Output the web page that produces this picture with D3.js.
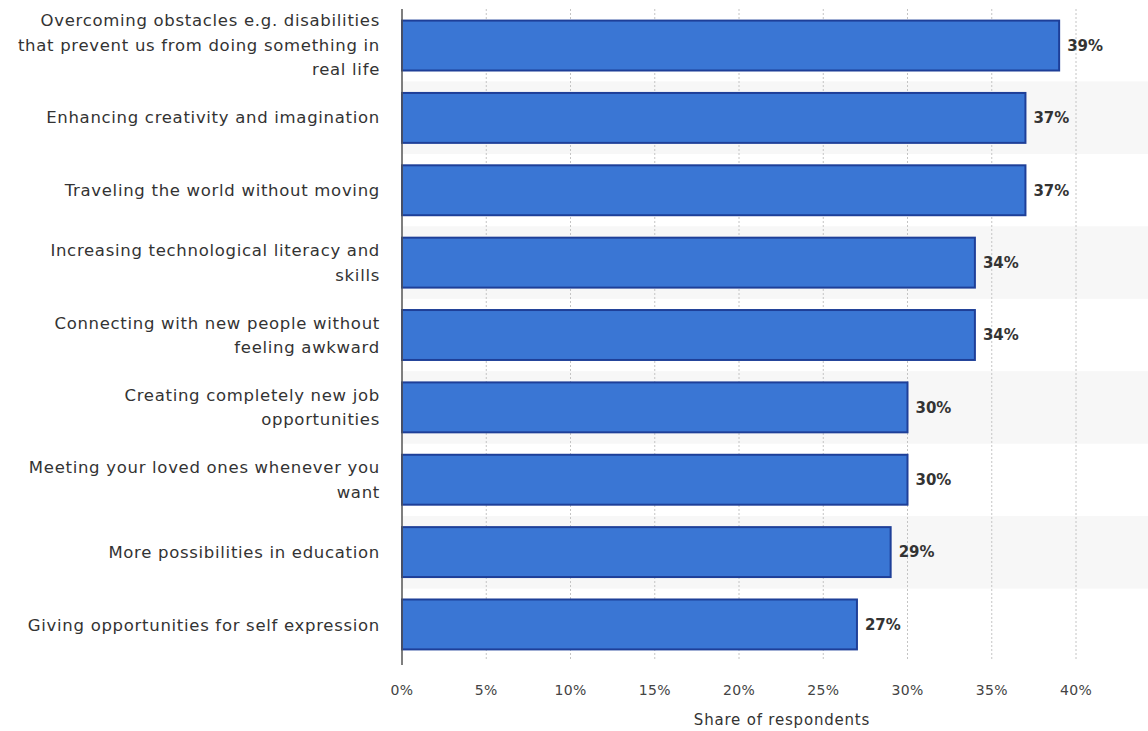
<!DOCTYPE html>
<html><head><meta charset="utf-8">
<script src="https://cdn.jsdelivr.net/npm/d3@7"></script>
<style>body{margin:0;background:#fff}svg{display:block}</style>
</head><body>
<svg id="c" width="1148" height="731"></svg>
<script>
const categories = [
  "Overcoming obstacles e.g. disabilities\nthat prevent us from doing something in\nreal life",
  "Enhancing creativity and imagination",
  "Traveling the world without moving",
  "Increasing technological literacy and\nskills",
  "Connecting with new people without\nfeeling awkward",
  "Creating completely new job\nopportunities",
  "Meeting your loved ones whenever you\nwant",
  "More possibilities in education",
  "Giving opportunities for self expression"
];
const values = [39, 37, 37, 34, 34, 30, 30, 29, 27];
const xTicks = [0, 5, 10, 15, 20, 25, 30, 35, 40];
const xTitle = "Share of respondents";

(function(){
const svg = d3.select("#c");
const pL = 402, pR = 1076, pT = 9, pB = 661;
const x = d3.scaleLinear().domain([0, 40]).range([pL, pR]);
const y = d3.scaleBand().domain(categories).range([pT, pB]).paddingInner(0.31).paddingOuter(0.16);
const yRow = d3.scaleBand().domain(categories).range([pT, pB]);

// bands
svg.append("g").selectAll("rect").data(categories.filter((d,i)=>i%2===1)).join("rect")
  .attr("x", pL).attr("width", 1148-pL)
  .attr("y", d=>yRow(d)).attr("height", yRow.bandwidth())
  .attr("fill", "#f7f7f7");

// grid
svg.append("g").selectAll("line").data(xTicks.slice(1)).join("line")
  .attr("x1", d=>x(d)).attr("x2", d=>x(d)).attr("y1", pT).attr("y2", pB)
  .attr("stroke", "#c4c4c4").attr("stroke-width", 1).attr("stroke-dasharray", "2,2");

// bars
svg.append("g").selectAll("rect").data(values).join("rect")
  .attr("x", x(0)).attr("y", (d,i)=>y(categories[i]))
  .attr("width", d=>x(d)-x(0)).attr("height", y.bandwidth())
  .attr("fill", "#3a76d4").attr("stroke", "#1e3f98").attr("stroke-width", 2);

// axis line
svg.append("line").attr("x1", pL).attr("x2", pL).attr("y1", pT).attr("y2", pB+4)
  .attr("stroke", "#555").attr("stroke-width", 1.5);

// value labels
svg.append("g").selectAll("text").data(values).join("text")
  .attr("x", d=>x(d)+8).attr("y", (d,i)=>y(categories[i])+y.bandwidth()/2)
  .attr("dy", "0.35em")
  .attr("font-family", "DejaVu Sans").attr("font-size", 15).attr("font-weight", "bold")
  .attr("fill", "#333").text(d=>d+"%");

// category labels
const lh = 24.5;
svg.append("g").selectAll("text").data(categories).join("text")
  .attr("text-anchor", "end")
  .attr("font-family", "DejaVu Sans").attr("font-size", 16.5).attr("letter-spacing", 0.7)
  .attr("fill", "#333")
  .each(function(d){
    const lines = d.split("\n");
    const cy = yRow(d) + yRow.bandwidth()/2;
    const t = d3.select(this);
    lines.forEach((ln, k)=>{
      t.append("tspan").attr("x", 380)
        .attr("y", cy + (k - (lines.length-1)/2)*lh).attr("dy", "0.35em").text(ln);
    });
  });

// x tick labels
svg.append("g").selectAll("text").data(xTicks).join("text")
  .attr("x", d=>x(d)).attr("y", 690).attr("dy", "0.35em").attr("text-anchor", "middle")
  .attr("font-family", "DejaVu Sans").attr("font-size", 14).attr("letter-spacing", 0.3).attr("fill", "#444")
  .text(d=>d+"%");

svg.append("text").attr("x", 782).attr("y", 720).attr("dy", "0.35em").attr("text-anchor", "middle")
  .attr("font-family", "DejaVu Sans").attr("font-size", 15).attr("letter-spacing", 0.8).attr("fill", "#333").text(xTitle);
})();
</script>
</body></html>
